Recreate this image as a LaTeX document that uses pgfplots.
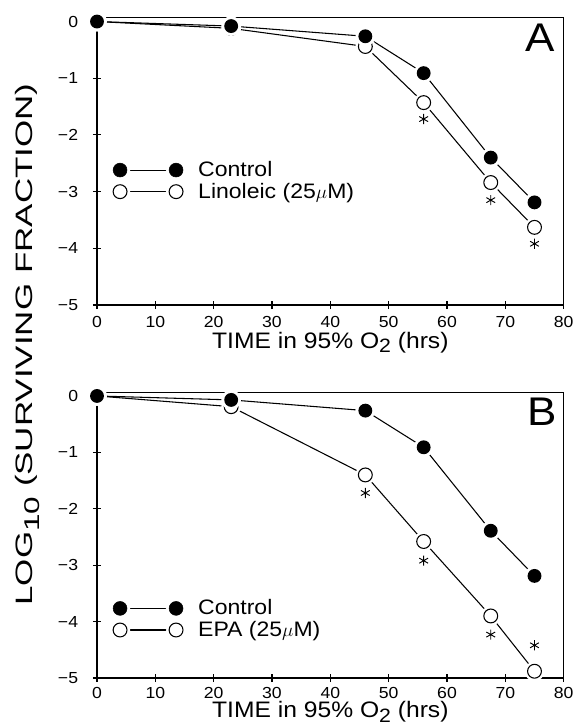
\documentclass[border=0pt]{standalone}
\usepackage{fontspec}
\setmainfont{Liberation Sans}[FakeStretch=1.1]
\usepackage{graphicx}
\usepackage{pgfplots}
\usepackage{pgfplotstable}
\pgfplotsset{compat=1.18}

% survival data, log10 scale
\pgfplotstableread{
t    y
0    0
23   -0.08
46   -0.26
56   -0.91
67.5 -2.40
75   -3.19
}\ctrlA
\pgfplotstableread{
t    y
0    0
23   -0.12
46   -0.44
56   -1.43
67.5 -2.84
75   -3.63
}\linA
\pgfplotstableread{
t    y
56   -1.72
67.5 -3.15
75   -3.92
}\starA
\pgfplotstableread{
t    y
0    0
23   -0.07
46   -0.26
56   -0.91
67.5 -2.39
75   -3.19
}\ctrlB
\pgfplotstableread{
t    y
0    0
23   -0.19
46   -1.40
56   -2.58
67.5 -3.90
75   -4.88
}\epaB
\pgfplotstableread{
t    y
46   -1.72
56   -2.92
67.5 -4.23
75   -4.42
}\starB

% marks with a white ring so lines stop short of them
\pgfdeclareplotmark{gapdot}{%
  \pgfmathsetlengthmacro\halo{\pgfplotmarksize+2.2pt}%
  \pgfpathcircle{\pgfpointorigin}{\halo}%
  \pgfsetfillcolor{white}\pgfusepath{fill}%
  \pgfpathcircle{\pgfpointorigin}{\pgfplotmarksize}%
  \pgfsetfillcolor{black}\pgfusepath{fill}}
\pgfdeclareplotmark{gapring}{%
  \pgfmathsetlengthmacro\halo{\pgfplotmarksize+2.2pt}%
  \pgfpathcircle{\pgfpointorigin}{\halo}%
  \pgfsetfillcolor{white}\pgfusepath{fill}%
  \pgfpathcircle{\pgfpointorigin}{\pgfplotmarksize}%
  \pgfusepath{fill,stroke}}

\pgfplotsset{
  panel/.style={
    scale only axis, width=350pt, xmin=0, xmax=80, ymin=-5,
    axis x line*=bottom, axis y line*=left,
    axis line style={line width=1.1pt,-},
    xtick={0,10,...,80}, xticklabels={0,10,20,30,40,50,60,70,80},
    ytick={-5,-4,...,0}, yticklabels={−5,−4,−3,−2,−1,0},
    tick align=center, major tick length=6pt,
    tick style={black, line width=0.8pt},
    ticklabel style={font=\fontsize{12}{13}\selectfont},
    xticklabel style={inner sep=0pt, anchor=north, yshift=-5.5pt},
    yticklabel style={inner sep=0pt, anchor=east, xshift=-11pt},
    xlabel={TIME in 95\% O\raisebox{-3.5pt}{\fontsize{14.5}{15}\selectfont 2} (hrs)},
    xlabel style={font=\fontsize{16.8}{18}\selectfont, at={(axis description cs:0.5,0)},
      anchor=north, inner sep=0pt, yshift=-20pt},
    clip=false,
    legend cell align=left,
    legend style={draw=none, fill=none, at={(rel axis cs:0,1)}, anchor=north west,
      font=\fontsize{15.7}{16}\selectfont, nodes={inner sep=0pt}, row sep=1pt,
      /tikz/every odd column/.append style={column sep=9pt}},
  },
  ser/.style={black, line width=0.8pt, mark size=5.2pt},
  fullleg/.style={legend image code/.code={
    \draw[line width=0.8pt] (0pt,0pt) -- (42pt,0pt);
    \fill[white] (0pt,0pt) circle[radius=7.4pt] (42pt,0pt) circle[radius=7.4pt];
    \fill[black] (0pt,0pt) circle[radius=5.2pt] (42pt,0pt) circle[radius=5.2pt];}},
  openleg/.style={legend image code/.code={
    \draw[line width=0.8pt] (0pt,0pt) -- (42pt,0pt);
    \fill[white] (0pt,0pt) circle[radius=7.4pt] (42pt,0pt) circle[radius=7.4pt];
    \draw[line width=0.8pt, fill=white] (0pt,0pt) circle[radius=5.2pt] (42pt,0pt) circle[radius=5.2pt];}},
}

\begin{document}
\begin{tikzpicture}
% panel A
\begin{axis}[panel, height=216pt, ymax=0.08, at={(0,0)}, anchor=north west,
  legend style={xshift=6.5pt, yshift=-105pt}]
\addplot[ser, mark=none, forget plot] table[x=t,y=y]{\ctrlA};
\addplot[ser, mark=none, forget plot] table[x=t,y=y]{\linA};
\addplot[ser, only marks, mark=gapring, forget plot] table[x=t,y=y]{\linA};
\addplot[ser, only marks, mark=gapdot, forget plot] table[x=t,y=y]{\ctrlA};
\addplot[black, only marks, mark=asterisk, mark size=3.8pt, line width=0.7pt, forget plot] table[x=t,y=y]{\starA};
\addlegendimage{fullleg}\addlegendentry{Control}
\addlegendimage{openleg}\addlegendentry{Linoleic (25$\mu$M)}
\draw[line width=0.6pt] (rel axis cs:0,1) -- (rel axis cs:1,1) -- (rel axis cs:1,0);
\node[anchor=north east, inner sep=0pt, font=\fontsize{30}{30}\selectfont,
  xshift=-6.75pt, yshift=-5.25pt] at (rel axis cs:1,1) {A};
\end{axis}
% panel B
\begin{axis}[panel, height=214.5pt, ymax=0.07, at={(0,-281.25pt)}, anchor=north west,
  xticklabel style={yshift=1.5pt}, xlabel style={yshift=2.5pt},
  legend style={xshift=6.5pt, yshift=-152.5pt}]
\addplot[ser, mark=none, forget plot] table[x=t,y=y]{\ctrlB};
\addplot[ser, mark=none, forget plot] table[x=t,y=y]{\epaB};
\addplot[ser, only marks, mark=gapring, forget plot] table[x=t,y=y]{\epaB};
\addplot[ser, only marks, mark=gapdot, forget plot] table[x=t,y=y]{\ctrlB};
\addplot[black, only marks, mark=asterisk, mark size=3.8pt, line width=0.7pt, forget plot] table[x=t,y=y]{\starB};
\addlegendimage{fullleg}\addlegendentry{Control}
\addlegendimage{openleg}\addlegendentry{EPA (25$\mu$M)}
\draw[line width=0.6pt] (rel axis cs:0,1) -- (rel axis cs:1,1) -- (rel axis cs:1,0);
\node[anchor=north east, inner sep=0pt, font=\fontsize{30}{30}\selectfont,
  xshift=-4.7pt, yshift=-4pt] at (rel axis cs:1,1) {B};
\end{axis}
% shared y label
\node[rotate=90, anchor=base, inner sep=0pt, font=\fontsize{17.8}{18}\selectfont]
  at (-48pt,-245.6pt) {\scalebox{1.34}[1]{LOG\raisebox{-5pt}{\fontsize{16}{16}\selectfont 10} (SURVIVING FRACTION)}};
\pgfresetboundingbox
\path (-72.75pt,12.75pt) rectangle (358.5pt,-533.25pt);
\end{tikzpicture}
\end{document}
